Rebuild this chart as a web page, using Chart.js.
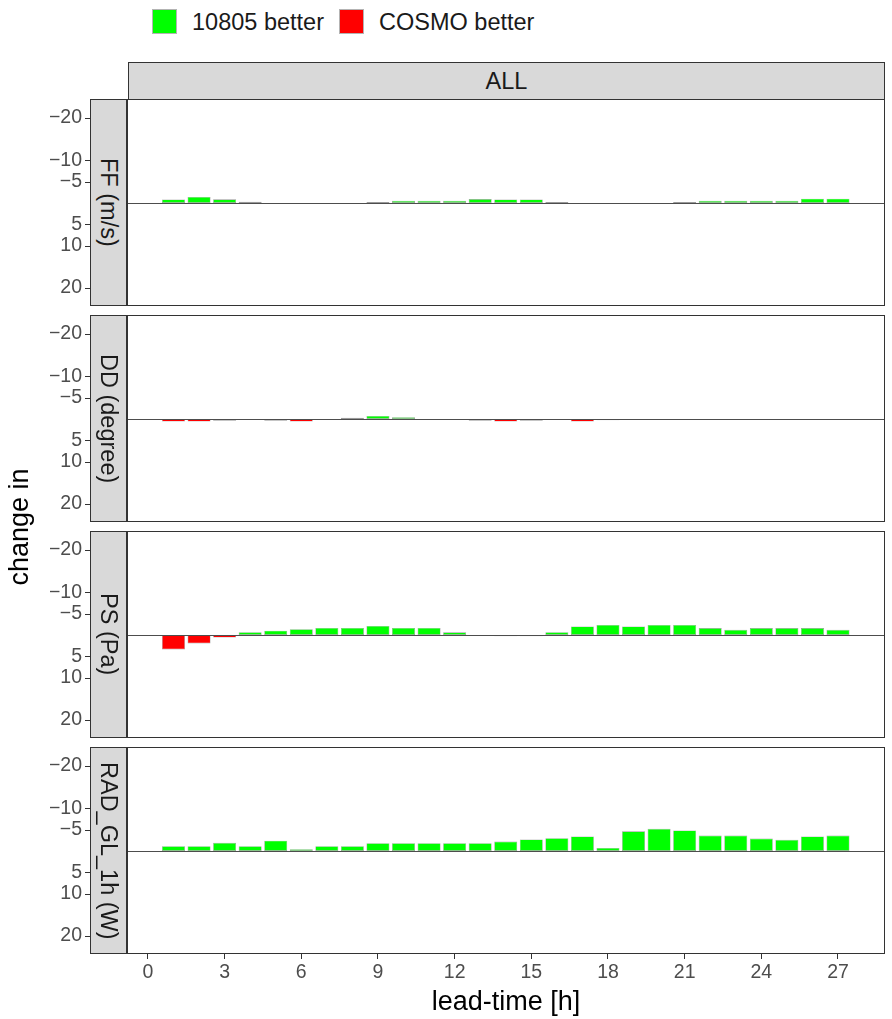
<!DOCTYPE html>
<html>
<head>
<meta charset="utf-8">
<script src="https://cdn.jsdelivr.net/npm/chart.js@4.4.1/dist/chart.umd.min.js"></script>
<style>
  html, body { margin: 0; padding: 0; background: #fff; }
  #page {
    position: relative; width: 892px; height: 1019px; overflow: hidden;
    font-family: "Liberation Sans", Arial, sans-serif; color: #1a1a1a;
  }
  canvas { position: absolute; left: 0; }
  .key { position: absolute; width: 25px; height: 25px; box-sizing: border-box; border: 1px solid #b3b3b3; }
  .keylab { position: absolute; font-size: 23.5px; line-height: 26px; height: 26px; white-space: nowrap; color: #1a1a1a; }
  .strip {
    position: absolute; left: 90px; width: 37px; box-sizing: border-box;
    background: #d9d9d9; border: 1px solid #333;
    display: flex; align-items: center; justify-content: center;
  }
  .strip span { writing-mode: vertical-rl; font-size: 23.5px; color: #1a1a1a; white-space: nowrap; }
  #header {
    position: absolute; left: 128px; top: 62px; width: 757px; height: 38px; box-sizing: border-box;
    background: #d9d9d9; border: 1px solid #333;
    display: flex; align-items: center; justify-content: center;
    font-size: 23.5px; color: #1a1a1a;
  }
  #xtitle { position: absolute; left: 128px; top: 985px; width: 756px; height: 32px; line-height: 32px;
    text-align: center; font-size: 27px; color: #000; }
  #ytitle { position: absolute; left: -131px; top: 511px; width: 300px; height: 32px; line-height: 32px;
    text-align: center; font-size: 27px; color: #000; transform: rotate(-90deg); }
</style>
</head>
<body>
<div id="page">
  <div id="legend"></div>
  <div id="header">ALL</div>
  <div id="xtitle">lead-time [h]</div>
  <div id="ytitle">change in</div>
</div>
<script>
// lead times (hours) of the bars
const leadTimes = [1, 2, 3, 4, 5, 6, 7, 8, 9, 10, 11, 12, 13, 14, 15, 16, 17, 18, 19, 20, 21, 22, 23, 24, 25, 26, 27];

// change per parameter, negative = 10805 better
const ffValues  = [-0.8, -1.4, -0.85, -0.3, 0, 0, 0.2, 0.2, -0.2, -0.5, -0.5, -0.5, -0.9, -0.8, -0.8, -0.2, 0, 0, 0, 0, -0.2, -0.5, -0.5, -0.5, -0.5, -1.0, -1.0];
const ddValues  = [0.6, 0.6, 0.4, 0, 0.4, 0.6, 0, -0.3, -0.7, -0.4, 0, 0, 0.4, 0.6, 0.4, 0, 0.6, 0.3, 0, 0, 0, 0, 0.2, 0.2, 0.2, 0.2, 0.2];
const psValues  = [3.4, 2.0, 0.6, -0.65, -1.0, -1.35, -1.65, -1.65, -2.1, -1.65, -1.65, -0.6, 0, 0.3, 0.3, -0.65, -2.0, -2.35, -2.0, -2.35, -2.35, -1.6, -1.2, -1.6, -1.6, -1.6, -1.2];
const radValues = [-1.1, -1.1, -1.9, -1.1, -2.4, -0.4, -1.1, -1.1, -1.8, -1.8, -1.8, -1.8, -1.8, -2.2, -2.7, -3.0, -3.4, -0.7, -4.6, -5.2, -4.8, -3.6, -3.6, -2.9, -2.6, -3.4, -3.6];

const panelNames = ["FF (m/s)", "DD (degree)", "PS (Pa)", "RAD_GL_1h (W)"];
const legendLabels = ["10805 better", "COSMO better"];
const legendColors = ["#00ff00", "#ff0000"];

const yTickValues = [-20, -10, -5, 5, 10, 20];
const xTickValues = [0, 3, 6, 9, 12, 15, 18, 21, 24, 27];

const GREEN = "#00ff00";
const RED = "#ff0000";
const panelTops = [99, 315, 531, 747];
const panelH = 207;

const page = document.getElementById("page");

// legend
const legend = document.getElementById("legend");
const keyX = [152, 339];
const labX = [192, 379];
legendLabels.forEach((lab, i) => {
  const k = document.createElement("div");
  k.className = "key";
  k.style.left = keyX[i] + "px";
  k.style.top = "9px";
  k.style.background = legendColors[i];
  legend.appendChild(k);
  const t = document.createElement("div");
  t.className = "keylab";
  t.style.left = labX[i] + "px";
  t.style.top = "9px";
  t.textContent = lab;
  legend.appendChild(t);
});

// draws panel frame, zero line and y tick marks
const panelDeco = {
  id: "panelDeco",
  afterDatasetsDraw(chart) {
    const ctx = chart.ctx;
    const ca = chart.chartArea;
    const ys = chart.scales.y;
    ctx.save();
    // zero line
    const y0 = Math.round(ys.getPixelForValue(0)) + 0.5;
    ctx.strokeStyle = "#4d4d4d";
    ctx.lineWidth = 1;
    ctx.beginPath();
    ctx.moveTo(ca.left, y0);
    ctx.lineTo(ca.right, y0);
    ctx.stroke();
    // frame
    ctx.strokeStyle = "#333333";
    ctx.strokeRect(ca.left - 0.5, ca.top + 0.5, ca.right - ca.left + 1, ca.bottom - ca.top - 1);
    // y tick marks, outside the strip
    yTickValues.forEach((v) => {
      const y = Math.round(ys.getPixelForValue(v)) + 0.5;
      ctx.beginPath();
      ctx.moveTo(85, y);
      ctx.lineTo(90, y);
      ctx.stroke();
    });
    ctx.restore();
  },
};

function fmt(v) {
  return v < 0 ? "\u2212" + Math.abs(v) : String(v);
}

function makePanel(i, values) {
  const last = i === panelNames.length - 1;
  const top = panelTops[i] - 1;
  const h = last ? 1019 - top : panelH + 2;

  const cv = document.createElement("canvas");
  cv.width = 892;
  cv.height = h;
  cv.style.top = top + "px";
  cv.style.width = "892px";
  cv.style.height = h + "px";
  page.insertBefore(cv, page.firstChild);

  const strip = document.createElement("div");
  strip.className = "strip";
  strip.style.top = panelTops[i] + "px";
  strip.style.height = panelH + "px";
  const sp = document.createElement("span");
  sp.textContent = panelNames[i];
  strip.appendChild(sp);
  page.appendChild(strip);

  new Chart(cv.getContext("2d"), {
    type: "bar",
    data: {
      datasets: [
        {
          data: values.map((v, j) => ({ x: leadTimes[j], y: v })),
          backgroundColor: values.map((v) => (v < 0 ? GREEN : RED)),
          borderColor: "#999999",
          borderWidth: 0.6,
          borderSkipped: false,
          barPercentage: 1,
          categoryPercentage: 0.9,
        },
      ],
    },
    options: {
      responsive: false,
      animation: false,
      devicePixelRatio: 1,
      layout: { padding: { left: 0, right: 8, top: 1, bottom: last ? 0 : 1 } },
      plugins: { legend: { display: false }, tooltip: { enabled: false } },
      scales: {
        x: {
          type: "linear",
          min: -0.78,
          max: 28.8,
          offset: false,
          display: last,
          afterBuildTicks: (s) => { s.ticks = xTickValues.map((v) => ({ value: v })); },
          afterFit: (s) => {
            if (last) s.height = 65;
            s.paddingLeft = 0;
            s.paddingRight = 0;
          },
          grid: { display: true, drawOnChartArea: false, drawTicks: true, tickLength: 5, color: "#333333", offset: false },
          border: { display: false },
          ticks: { color: "#4d4d4d", font: { family: "Liberation Sans", size: 19.5 }, padding: 2, maxRotation: 0 },
        },
        y: {
          type: "linear",
          min: -24.4,
          max: 24.2,
          reverse: true,
          afterBuildTicks: (s) => { s.ticks = yTickValues.map((v) => ({ value: v })); },
          afterFit: (s) => {
            s.width = 128;
            s.paddingTop = 0;
            s.paddingBottom = 0;
          },
          // invisible tick marks only push the labels left of the strip
          grid: { display: true, drawOnChartArea: false, drawTicks: true, tickLength: 46, color: "rgba(0,0,0,0)" },
          border: { display: false },
          ticks: {
            color: "#4d4d4d",
            font: { family: "Liberation Sans", size: 19.5 },
            padding: 0,
            callback: (v) => fmt(v),
          },
        },
      },
    },
    plugins: [panelDeco],
  });
}

[ffValues, ddValues, psValues, radValues].forEach((vals, i) => makePanel(i, vals));
</script>
</body>
</html>
